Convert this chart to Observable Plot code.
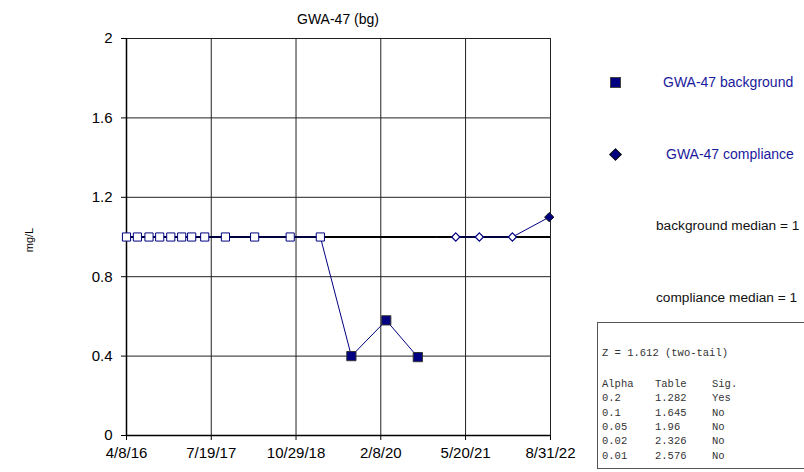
<!DOCTYPE html>
<html><head><meta charset="utf-8">
<script src="https://cdn.jsdelivr.net/npm/d3@7"></script>
<script src="https://cdn.jsdelivr.net/npm/@observablehq/plot@0.6"></script>
<style>
body{margin:0;background:#fff;font-family:"Liberation Sans",Arial,sans-serif;}
#wrap{position:relative;width:804px;height:472px;overflow:hidden;background:#fff;}
#wrap svg{position:absolute;left:0;top:0;}
.abs{position:absolute;white-space:pre;line-height:16px;}
.leg{color:#1a1a9c;font-size:14px;}
.med{color:#111;font-size:13.7px;}
#tbl{position:absolute;left:597px;top:322px;width:260px;height:145px;border:1.5px solid #555;border-right:none;}
.mono{position:absolute;font-family:"Liberation Mono","Courier New",monospace;font-size:10.5px;color:#333;white-space:pre;line-height:14px;}
</style></head><body><div id="wrap"></div>
<script>
// ---- data ----
const titleText = "GWA-47 (bg)";
const yLabel = "mg/L";
const xTickLabels = ["4/8/16","7/19/17","10/29/18","2/8/20","5/20/21","8/31/22"];
const yTicks = [0, 0.4, 0.8, 1.2, 1.6, 2];

const bgDates = ["2016-04-08","2016-06-07","2016-08-10","2016-10-08","2016-12-08","2017-02-06","2017-04-02","2017-06-13","2017-10-05","2018-03-15","2018-09-27","2019-03-12","2019-08-30","2020-03-09","2020-08-30"];
const bgValues = [1,1,1,1,1,1,1,1,1,1,1,1,0.4,0.58,0.395];
const bgDetected = [false,false,false,false,false,false,false,false,false,false,false,false,true,true,true];

const compDates = ["2021-03-27","2021-08-04","2022-02-02","2022-08-24"];
const compValues = [1,1,1,1.1];
const compDetected = [false,false,false,true];

const bgMedian = 1, compMedian = 1;
const bgMedianSpan = ["2016-04-08","2020-12-16"];
const compMedianSpan = ["2020-12-16","2022-08-31"];

const legendLabels = ["GWA-47 background","GWA-47 compliance"];
const medianLabels = ["background median = 1","compliance median = 1"];
const zText = "Z = 1.612 (two-tail)";
const tableHeader = ["Alpha","Table","Sig."];
const alphas = ["0.2","0.1","0.05","0.02","0.01"];
const tableVals = ["1.282","1.645","1.96","2.326","2.576"];
const sigVals = ["Yes","No","No","No","No"];

// ---- build ----
const pd = d3.utcParse("%Y-%m-%d");
const pt = d3.utcParse("%m/%d/%y");
const fmt = d3.utcFormat("%-m/%-d/%y");
const xTicks = xTickLabels.map(pt);
const bg = bgDates.map((d,i)=>({date:pd(d), v:bgValues[i], det:bgDetected[i]}));
const comp = compDates.map((d,i)=>({date:pd(d), v:compValues[i], det:compDetected[i]}));
const medians = [
  {v:bgMedian, x1:pd(bgMedianSpan[0]), x2:pd(bgMedianSpan[1])},
  {v:compMedian, x1:pd(compMedianSpan[0]), x2:pd(compMedianSpan[1])}
];
const navy = "#000080";

const chart = Plot.plot({
  width: 804, height: 472,
  marginLeft: 126, marginRight: 254, marginTop: 38, marginBottom: 37,
  style: {fontFamily: "Liberation Sans, Arial, sans-serif", color: "#000", background: "transparent"},
  x: {type: "utc", domain: [xTicks[0], xTicks[xTicks.length-1]]},
  y: {domain: [0, 2]},
  marks: [
    Plot.gridX(xTicks, {stroke: "#222", strokeOpacity: 1, strokeWidth: 1}),
    Plot.gridY(yTicks, {stroke: "#222", strokeOpacity: 1, strokeWidth: 1}),
    Plot.ruleY([0], {stroke: "#000", strokeWidth: 1.5}),
    Plot.ruleX([xTicks[0]], {stroke: "#000", strokeWidth: 1.5}),
    Plot.axisY({ticks: yTicks, label: null, tickSize: 5, tickPadding: 9, fontSize: 15, tickFormat: d3.format("")}),
    Plot.axisX({ticks: xTicks, label: null, tickSize: 5, tickPadding: 7, fontSize: 15, tickFormat: fmt}),
    Plot.ruleY(medians, {y: "v", x1: "x1", x2: "x2", stroke: "#000", strokeWidth: 2}),
    Plot.line(bg, {x: "date", y: "v", stroke: navy, strokeWidth: 1}),
    Plot.line(comp, {x: "date", y: "v", stroke: navy, strokeWidth: 1}),
    Plot.dot(bg.filter(d=>!d.det), {x: "date", y: "v", symbol: "square", r: 4.6, fill: "#fff", stroke: navy, strokeWidth: 1}),
    Plot.dot(bg.filter(d=>d.det), {x: "date", y: "v", symbol: "square", r: 5.2, fill: navy, stroke: "#333", strokeWidth: 1}),
    Plot.dot(comp.filter(d=>!d.det), {x: "date", y: "v", symbol: "diamond2", r: 3.7, fill: "#fff", stroke: navy, strokeWidth: 1.2}),
    Plot.dot(comp.filter(d=>d.det), {x: "date", y: "v", symbol: "diamond2", r: 4.2, fill: navy, stroke: "#111", strokeWidth: 1})
  ]
});
const wrap = document.getElementById("wrap");
wrap.appendChild(chart);

function addText(txt, cls, left, top, extra) {
  const d = document.createElement("div");
  d.className = "abs " + cls;
  d.textContent = txt;
  d.style.left = left + "px"; d.style.top = top + "px";
  if (extra) Object.assign(d.style, extra);
  wrap.appendChild(d);
  return d;
}
// title
addText(titleText, "", 0, 11, {width: "676px", textAlign: "center", fontSize: "14px", color: "#000"});
// y label
addText(yLabel, "", 9, 232, {fontSize: "11px", width: "40px", textAlign: "center", transform: "rotate(-90deg)", transformOrigin: "20px 8px", color: "#000"});
// legend markers
const sq = document.createElement("div");
Object.assign(sq.style, {position:"absolute", left:"610px", top:"77px", width:"9px", height:"9px", background:navy, border:"1px solid #444"});
wrap.appendChild(sq);
const dm = document.createElement("div");
Object.assign(dm.style, {position:"absolute", left:"611px", top:"150px", width:"7px", height:"7px", background:navy, border:"1px solid #111", transform:"rotate(45deg)"});
wrap.appendChild(dm);
addText(legendLabels[0], "leg", 663, 74);
addText(legendLabels[1], "leg", 666, 146);
addText(medianLabels[0], "med", 656, 218);
addText(medianLabels[1], "med", 656, 290);
// stats table
const tbl = document.createElement("div"); tbl.id = "tbl"; wrap.appendChild(tbl);
function mono(txt, left, top){ const d=document.createElement("div"); d.className="mono"; d.textContent=txt; d.style.left=left+"px"; d.style.top=top+"px"; wrap.appendChild(d); }
const cols = [602, 655, 712];
mono(zText, cols[0], 346);
const rowTop = 377, lh = 14.3;
tableHeader.forEach((h,j)=> mono(h, cols[j], rowTop));
alphas.forEach((a,i)=>{
  const t = rowTop + lh*(i+1);
  [a, tableVals[i], sigVals[i]].forEach((c,j)=> mono(c, cols[j], t));
});
</script></body></html>
